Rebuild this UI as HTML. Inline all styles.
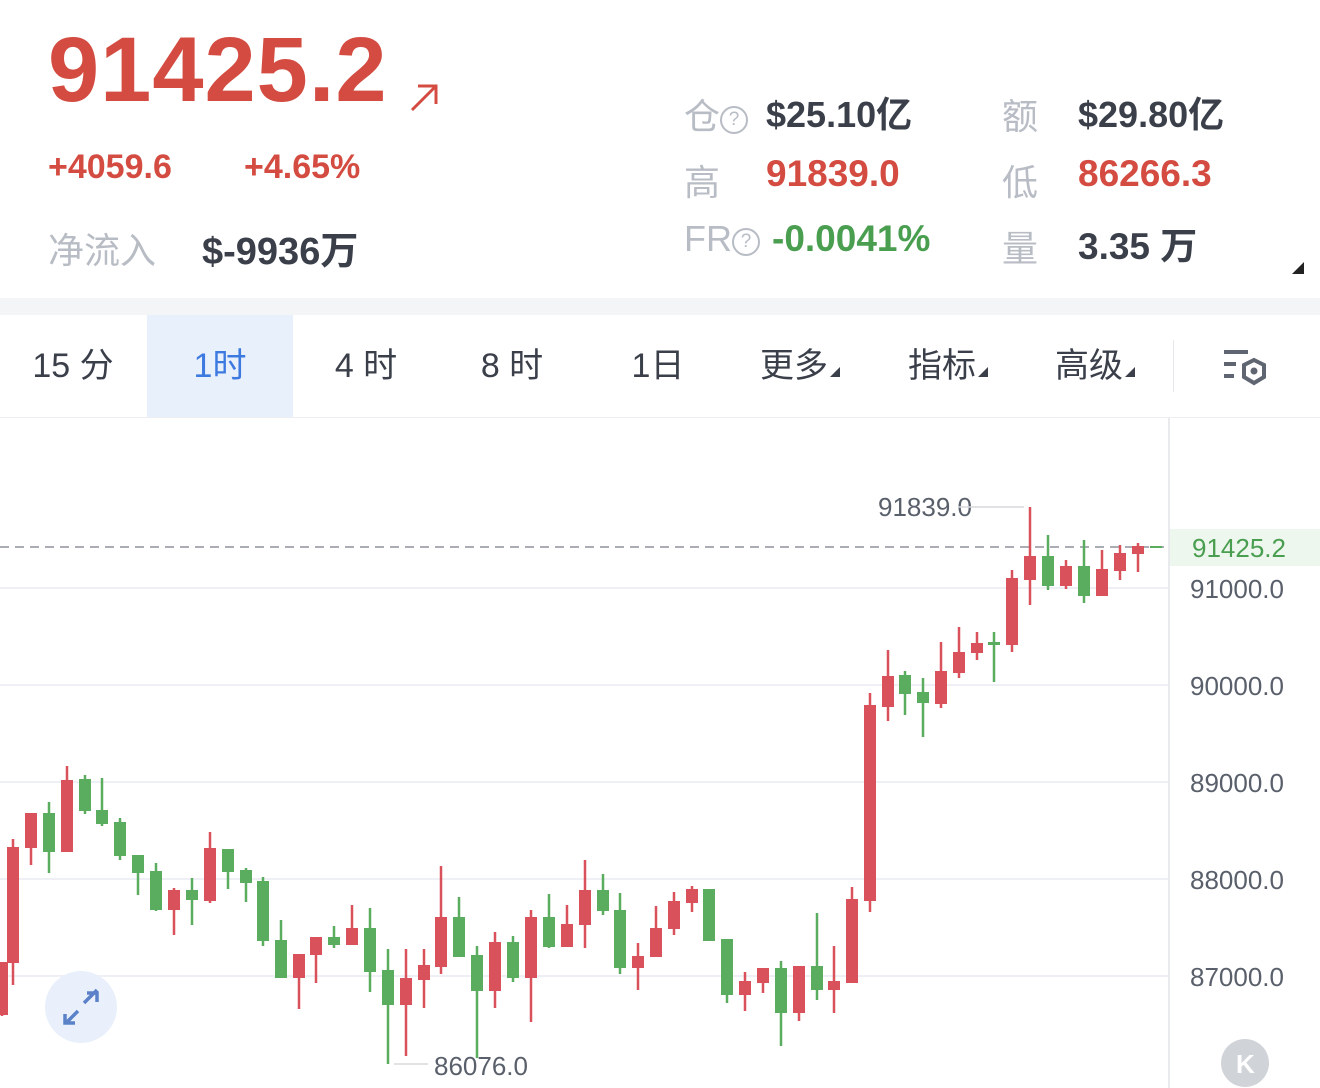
<!DOCTYPE html>
<html><head><meta charset="utf-8"><style>
body{margin:0;width:1320px;height:1088px;background:#fff;overflow:hidden;position:relative;font-family:"Liberation Sans","Noto Sans CJK SC",sans-serif}
.a{position:absolute;white-space:nowrap}
.r{color:#d44c41}.g{color:#4a9e50}.k{color:#3a3f4a}.l{color:#b8bcc4}
.q{display:inline-block;border:2px solid #b8bcc4;border-radius:50%;font-size:19px;line-height:24px;text-align:center;color:#b8bcc4;vertical-align:4px;box-sizing:border-box;width:28px;height:28px}
.tab{position:absolute;top:315px;height:102px;line-height:102px;font-size:34px;color:#3a3f4a;text-align:center}
.tri{display:inline-block;width:0;height:0;border-left:10px solid transparent;border-bottom:10px solid #3a3f4a;margin-left:2px}
</style></head><body>
<div class="a r" style="left:48px;top:18px;font-size:92px;font-weight:bold;letter-spacing:1px">91425.2</div>
<svg class="a" style="left:408px;top:82px" width="34" height="34"><path d="M4 28 L28 4 M10 4 H28 V22" stroke="#d44c41" stroke-width="3" fill="none"/></svg>
<div class="a r" style="left:48px;top:148px;font-size:34px;font-weight:bold">+4059.6</div>
<div class="a r" style="left:244px;top:148px;font-size:34px;font-weight:bold">+4.65%</div>
<div class="a l" style="left:48px;top:222px;font-size:36px">净流入</div>
<div class="a k" style="left:202px;top:220px;font-size:38px;font-weight:bold">$-9936万</div>

<div class="a l" style="left:684px;top:88px;font-size:36px">仓<span class="q">?</span></div>
<div class="a k" style="left:766px;top:86px;font-size:36px;font-weight:bold">$25.10亿</div>
<div class="a l" style="left:1002px;top:88px;font-size:36px">额</div>
<div class="a k" style="left:1078px;top:86px;font-size:36px;font-weight:bold">$29.80亿</div>
<div class="a l" style="left:684px;top:154px;font-size:36px">高</div>
<div class="a r" style="left:766px;top:153px;font-size:37px;font-weight:bold">91839.0</div>
<div class="a l" style="left:1002px;top:154px;font-size:36px">低</div>
<div class="a r" style="left:1078px;top:153px;font-size:37px;font-weight:bold">86266.3</div>
<div class="a l" style="left:684px;top:218px;font-size:36px">FR<span class="q">?</span></div>
<div class="a g" style="left:772px;top:218px;font-size:37px;font-weight:bold">-0.0041%</div>
<div class="a l" style="left:1002px;top:220px;font-size:36px">量</div>
<div class="a k" style="left:1078px;top:216px;font-size:37px;font-weight:bold">3.35 万</div>
<div class="a" style="left:1292px;top:262px;width:0;height:0;border-left:12px solid transparent;border-bottom:12px solid #222"></div>

<div class="a" style="left:0;top:298px;width:1320px;height:17px;background:#f4f5f7"></div>
<div class="a" style="left:147px;top:315px;width:146px;height:102px;background:#e8f0fc"></div>
<div class="tab" style="left:0;width:146px">15 分</div>
<div class="tab" style="left:147px;width:146px;color:#3d7ae0">1时</div>
<div class="tab" style="left:293px;width:146px">4 时</div>
<div class="tab" style="left:439px;width:146px">8 时</div>
<div class="tab" style="left:585px;width:146px">1日</div>
<div class="tab" style="left:760px">更多<span class="tri"></span></div>
<div class="tab" style="left:908px">指标<span class="tri"></span></div>
<div class="tab" style="left:1055px">高级<span class="tri"></span></div>
<div class="a" style="left:1173px;top:340px;width:1px;height:52px;background:#e6e8ec"></div>
<svg class="a" style="left:1222px;top:348px" width="48" height="40"><rect x="2" y="2" width="24" height="4" fill="#5f6672"/><rect x="2" y="14" width="12" height="4" fill="#5f6672"/><rect x="2" y="26" width="10" height="4" fill="#5f6672"/><polygon points="32,12 42,17 42,29 32,35 22,29 22,17" fill="none" stroke="#5f6672" stroke-width="4"/><circle cx="32" cy="23" r="3.5" fill="#5f6672"/></svg>
<div class="a" style="left:0;top:417px;width:1320px;height:1px;background:#eceef2"></div>

<svg class="a" style="left:0;top:0" width="1320" height="1088">
<g stroke="#eef0f5" stroke-width="2"><line x1="0" y1="588" x2="1169" y2="588"/><line x1="0" y1="685" x2="1169" y2="685"/><line x1="0" y1="782" x2="1169" y2="782"/><line x1="0" y1="879" x2="1169" y2="879"/><line x1="0" y1="976" x2="1169" y2="976"/></g>
<line x1="1169" y1="418" x2="1169" y2="1088" stroke="#e8eaee" stroke-width="2"/>
<line x1="0" y1="547" x2="1169" y2="547" stroke="#8e939c" stroke-width="1.5" stroke-dasharray="9,6"/>
<rect x="1170" y="529" width="150" height="37" fill="#edf7ee"/>
<g font-size="26" fill="#5a606b" font-family="Liberation Sans,sans-serif">
<text x="1192" y="557" fill="#4a9e50">91425.2</text>
<text x="1190" y="598">91000.0</text><text x="1190" y="695">90000.0</text><text x="1190" y="792">89000.0</text><text x="1190" y="889">88000.0</text><text x="1190" y="986">87000.0</text>
<text x="878" y="516">91839.0</text><text x="434" y="1075">86076.0</text></g>
<line x1="958" y1="507" x2="1024" y2="507" stroke="#d6d8dc" stroke-width="1.5"/>
<line x1="394" y1="1064" x2="428" y2="1064" stroke="#d6d8dc" stroke-width="1.5"/>
<g id="c"></g>
<circle cx="81" cy="1007" r="36" fill="#e9f0fb"/>
<path d="M84 1003 L97 990 M87 993 H97 V1002 M78 1011 L66 1023 M65 1014 V1023 H75" stroke="#5b82c9" stroke-width="3.5" fill="none"/>
<circle cx="1245" cy="1063" r="24" fill="#d0d3d8"/>
<text x="1236" y="1073" font-size="26" fill="#fff" font-weight="bold" font-family="Liberation Sans,sans-serif">K</text>
</svg>
<script>
var d=[[2,962,1015,962,1016,'r'],[13,847,963,839,985,'r'],[31,813,848,813,865,'r'],[49,813,852,802,873,'g'],[67,780,852,766,852,'r'],[85,779,811,775,814,'g'],[102,810,824,778,826,'g'],[120,822,856,818,860,'g'],[138,855,873,855,895,'g'],[156,871,910,863,911,'g'],[174,890,910,888,935,'r'],[192,890,900,878,925,'g'],[210,848,901,832,903,'r'],[228,849,872,849,889,'g'],[246,870,883,868,902,'g'],[263,881,941,877,946,'g'],[281,940,978,920,978,'g'],[299,954,978,954,1009,'r'],[316,937,955,937,983,'r'],[334,937,945,926,948,'g'],[352,928,945,905,945,'r'],[370,928,972,908,992,'g'],[388,970,1005,949,1064,'g'],[406,978,1005,949,1056,'r'],[424,965,980,949,1008,'r'],[441,917,967,866,974,'r'],[459,917,957,897,957,'g'],[477,955,991,946,1058,'g'],[495,942,991,932,1008,'r'],[513,942,978,936,982,'g'],[531,917,978,910,1022,'r'],[549,917,947,894,948,'g'],[567,924,947,905,947,'r'],[585,890,925,860,948,'r'],[603,890,911,874,915,'g'],[620,910,968,893,974,'g'],[638,956,968,943,990,'r'],[656,928,957,906,957,'r'],[674,901,929,892,935,'r'],[692,889,903,886,912,'r'],[709,889,941,889,941,'g'],[727,939,995,939,1003,'g'],[745,981,995,972,1011,'r'],[763,968,983,968,993,'r'],[781,968,1013,961,1046,'g'],[799,966,1013,966,1021,'r'],[817,966,990,913,1000,'g'],[834,981,990,946,1013,'r'],[852,899,983,887,983,'r'],[870,705,901,693,912,'r'],[888,676,707,650,721,'r'],[905,675,694,671,715,'g'],[923,692,703,678,737,'g'],[941,671,704,642,708,'r'],[959,652,673,627,678,'r'],[977,643,653,632,660,'r'],[994,642,645,632,682,'g'],[1012,578,645,570,652,'r'],[1030,556,580,507,605,'r'],[1048,556,586,535,590,'g'],[1066,566,586,560,589,'r'],[1084,566,596,540,603,'g'],[1102,569,596,550,596,'r'],[1120,553,571,545,580,'r'],[1138,546,554,543,572,'r'],[1156,546,548,546,548,'g']];
var s='';d.forEach(function(c){var col=c[5]=='r'?'#d9515a':'#5aad5e';s+='<line x1="'+c[0]+'" y1="'+c[3]+'" x2="'+c[0]+'" y2="'+c[4]+'" stroke="'+col+'" stroke-width="2.5"/><rect x="'+(c[0]-6)+'" y="'+c[1]+'" width="12" height="'+Math.max(2,c[2]-c[1])+'" fill="'+col+'"/>';});
document.getElementById('c').innerHTML=s;
</script>
</body></html>
